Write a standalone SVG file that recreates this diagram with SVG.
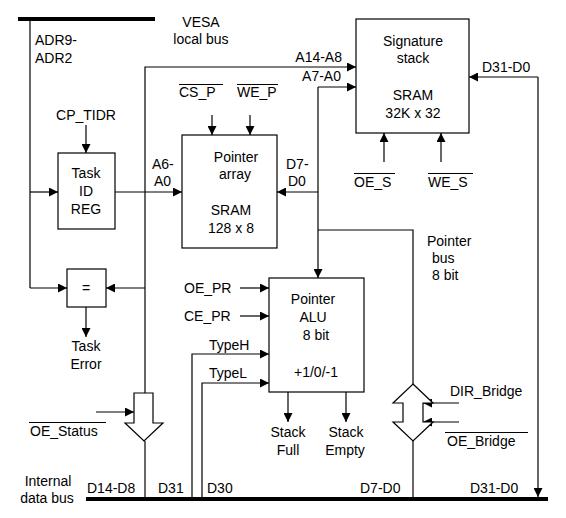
<svg xmlns="http://www.w3.org/2000/svg" width="566" height="518" viewBox="0 0 566 518">
<style>
text{font-family:"Liberation Sans",Arial,sans-serif;font-size:14px;fill:#000}
.m{text-anchor:middle}
.e{text-anchor:end}
.box{fill:#fff;stroke:#000;stroke-width:1.2}
.w{fill:none;stroke:#000;stroke-width:1.2}
.a{fill:none;stroke:#000;stroke-width:1.2;marker-end:url(#ah)}
.bus{fill:none;stroke:#000;stroke-width:4}
.ol{stroke:#000;stroke-width:1}
</style>
<defs>
<marker id="ah" viewBox="0 0 10 10" refX="10" refY="5" markerWidth="9" markerHeight="9" markerUnits="userSpaceOnUse" orient="auto">
<path d="M0,0 L10,5 L0,10 z" fill="#000"/>
</marker>
</defs>
<rect width="566" height="518" fill="#fff"/>

<g id="buses">
<line class="bus" x1="18" y1="19" x2="155" y2="19"/>
<text class="m" x="201" y="27">VESA</text>
<text class="m" x="201" y="44">local bus</text>
<line class="bus" x1="86" y1="499" x2="548" y2="499"/>
<text class="m" x="48" y="486">Internal</text>
<text class="m" x="47" y="503">data bus</text>
</g>

<g id="connectors">
<path class="w" d="M30,19 V288"/>
<path class="a" d="M30,288 H67"/>
<path class="a" d="M30,192 H58"/>
<path class="a" d="M86,125 V153"/>
<path class="a" d="M115,192 H182"/>
<path class="a" d="M145,393 V67 H356"/>
<path class="a" d="M145,288 H106"/>
<path class="a" d="M86,307 V337"/>
<path class="w" d="M145,441 V499"/>
<path class="a" d="M96,412 H134"/>
<path class="a" d="M318,87 H356"/>
<path class="a" d="M318,87 V278"/>
<path class="a" d="M318,192 H277"/>
<path class="w" d="M318,230 H413 V384"/>
<path class="w" d="M413,441 V499"/>
<path class="a" d="M538,77 H469"/>
<path class="a" d="M538,77 V497"/>
<path class="a" d="M212,115 V135"/>
<path class="a" d="M250,115 V135"/>
<path class="a" d="M384,162 V133"/>
<path class="a" d="M441,162 V133"/>
<path class="a" d="M240,288 H269"/>
<path class="a" d="M240,316 H269"/>
<path class="a" d="M192,499 V354 H269"/>
<path class="a" d="M202,499 V383 H269"/>
<path class="a" d="M288,392 V422"/>
<path class="a" d="M346,392 V422"/>
<path class="a" d="M459,403 H423"/>
<path class="a" d="M459,422 H423"/>
</g>

<g id="labels">
<text x="35" y="45">ADR9-</text>
<text x="35" y="63">ADR2</text>
<text class="m" x="86" y="120">CP_TIDR</text>
<text x="152" y="169">A6-</text>
<text x="154" y="186">A0</text>
<text x="286" y="169">D7-</text>
<text x="288" y="186">D0</text>
<text class="e" x="342" y="62">A14-A8</text>
<text class="e" x="341" y="81">A7-A0</text>
<text x="482" y="72">D31-D0</text>
<text x="179" y="97">CS_P</text>
<line class="ol" x1="179" y1="84.5" x2="223" y2="84.5"/>
<text x="237" y="97">WE_P</text>
<line class="ol" x1="237" y1="84.5" x2="278" y2="84.5"/>
<text x="354" y="187">OE_S</text>
<line class="ol" x1="354" y1="173.5" x2="395" y2="173.5"/>
<text x="428" y="187">WE_S</text>
<line class="ol" x1="428" y1="173.5" x2="473" y2="173.5"/>
<text x="427" y="246">Pointer</text>
<text x="432" y="263">bus</text>
<text x="432" y="280">8 bit</text>
<text x="184" y="293">OE_PR</text>
<text x="184" y="321">CE_PR</text>
<text x="209" y="350">TypeH</text>
<text x="209" y="378">TypeL</text>
<text class="m" x="288" y="437">Stack</text>
<text class="m" x="288" y="455">Full</text>
<text class="m" x="346" y="437">Stack</text>
<text class="m" x="345" y="455">Empty</text>
<text class="m" x="86" y="351">Task</text>
<text class="m" x="86" y="369">Error</text>
<text x="30" y="436">OE_Status</text>
<line class="ol" x1="29" y1="422.5" x2="106" y2="422.5"/>
<text x="450" y="396">DIR_Bridge</text>
<text x="447" y="446">OE_Bridge</text>
<line class="ol" x1="445" y1="432.5" x2="528" y2="432.5"/>
<text x="87" y="493">D14-D8</text>
<text x="158" y="493">D31</text>
<text x="207" y="493">D30</text>
<text x="360" y="493">D7-D0</text>
<text x="470" y="493">D31-D0</text>
</g>

<g id="task-id-reg">
<rect class="box" x="58" y="153" width="57" height="76"/>
<text class="m" x="86" y="178">Task</text>
<text class="m" x="86" y="196">ID</text>
<text class="m" x="86" y="214">REG</text>
</g>

<g id="compare">
<rect class="box" x="67" y="269" width="39" height="38"/>
<text class="m" x="86" y="293">=</text>
</g>

<g id="pointer-array">
<rect class="box" x="182" y="135" width="95" height="113"/>
<text class="m" x="236" y="162">Pointer</text>
<text class="m" x="235" y="179">array</text>
<text class="m" x="231" y="215">SRAM</text>
<text class="m" x="231" y="233">128 x 8</text>
</g>

<g id="signature-stack">
<rect class="box" x="356" y="19" width="113" height="114"/>
<text class="m" x="413" y="46">Signature</text>
<text class="m" x="413" y="63">stack</text>
<text class="m" x="413" y="100">SRAM</text>
<text class="m" x="413" y="118">32K x 32</text>
</g>

<g id="pointer-alu">
<rect class="box" x="269" y="278" width="95" height="114"/>
<text class="m" x="313" y="304">Pointer</text>
<text class="m" x="313" y="322">ALU</text>
<text class="m" x="316" y="340">8 bit</text>
<text class="m" x="316" y="377">+1/0/-1</text>
</g>

<g id="oe-status-buffer">
<polygon class="box" points="134,393 153,393 153,423 163,423 144,441 125,423 134,423"/>
</g>

<g id="bridge">
<polygon class="box" points="413,384 433,403 423,403 423,422 433,422 413,441 393,422 403,422 403,403 393,403"/>
</g>
</svg>
